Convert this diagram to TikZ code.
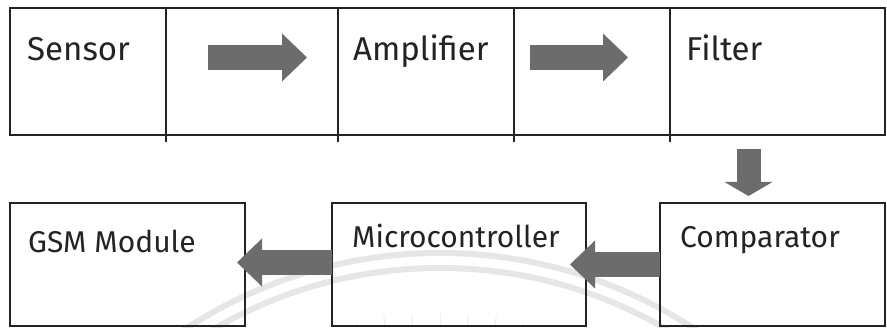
\documentclass[tikz,border=0pt]{standalone}
\usepackage{fontspec}
\setmainfont{Fira Sans}
\usetikzlibrary{arrows.meta,calc}
\definecolor{boxline}{RGB}{35,35,35}
\definecolor{txt}{RGB}{35,35,35}
\definecolor{arrowgray}{RGB}{108,108,108}
\definecolor{wmark}{RGB}{230,230,230}
\begin{document}
\begin{tikzpicture}[x=1pt,y=-1pt,
  cell/.style={draw=boxline,line width=1.4pt,minimum height=127pt,anchor=north west,inner sep=0pt,outer sep=0pt},
  lowbox/.style={draw=boxline,line width=1.4pt,minimum height=123pt,anchor=north west,inner sep=0pt,outer sep=0pt},
  lbl/.style={anchor=base west,inner sep=0pt,font=\fontsize{30}{32}\selectfont,text=txt},
  toplbl/.style={lbl,font=\fontsize{33}{35}\selectfont},
  fat/.style={draw=arrowgray,line width=25pt,line cap=butt,-{Triangle[width=48pt,length=25pt,line width=0pt]}},
  fatdown/.style={draw=arrowgray,line width=24pt,line cap=butt,-{Triangle[width=48pt,length=14pt,line width=0pt]}},
  wm/.style={draw=wmark,line width=6pt},
  tick/.style={draw=boxline,line width=1.4pt}
]
\useasboundingbox (0,0) rectangle (887,328);
% faint watermark behind the diagram
\begin{scope}
  \clip (0,0) rectangle (887,328);
  \draw[wm] (440,717) circle[radius=464];
  \draw[wm] (440,717) circle[radius=449];
  \foreach \a in {78,82,86,90,94,98,102}
    \draw[draw=wmark!70,line width=1pt] ($(440,717)+(\a:-392)$) -- ($(440,717)+(\a:-404)$);
\end{scope}
% top row (one table of five cells)
\node[cell,minimum width=156pt] (sensor) at (10,8) {};
\node[cell,minimum width=172pt] (gapone) at (sensor.north east) {};
\node[cell,minimum width=176pt] (amp) at (gapone.north east) {};
\node[cell,minimum width=156pt] (gaptwo) at (amp.north east) {};
\node[cell,minimum width=215pt] (filter) at (gaptwo.north east) {};
\foreach \c in {sensor,gapone,amp,gaptwo}
  \draw[tick] (\c.south east) -- ++(0,7);
\node[toplbl] (sensorlbl) at ([xshift=17pt,yshift=-53pt]sensor.north west) {Sensor};
\node[toplbl] (amplbl) at ([xshift=15pt,yshift=-53pt]amp.north west) {Amplifier};
\node[toplbl] (filterlbl) at ([xshift=16pt,yshift=-53pt]filter.north west) {Filter};
% bottom row
\node[lowbox,minimum width=235pt] (gsm) at (10,203) {};
\node[lowbox,minimum width=254pt] (micro) at (332,203) {};
\node[lowbox,minimum width=225pt] (comp) at (660,203) {};
\node[lbl] (gsmlbl) at ([xshift=18pt,yshift=-50pt]gsm.north west) {GSM Module};
\node[lbl] (microlbl) at ([xshift=20pt,yshift=-45pt]micro.north west) {Microcontroller};
\node[lbl] (complbl) at ([xshift=20pt,yshift=-45pt]comp.north west) {Comparator};
% block arrows
\coordinate (aonestart) at ([xshift=42pt,yshift=14pt]gapone.west);
\coordinate (aoneend) at ([xshift=-31pt,yshift=14pt]gapone.east);
\coordinate (atwostart) at ([xshift=16pt,yshift=14pt]gaptwo.west);
\coordinate (atwoend) at ([xshift=-42pt,yshift=14pt]gaptwo.east);
\draw[fat] (aonestart) -- (aoneend);
\draw[fat] (atwostart) -- (atwoend);
\coordinate (dstart) at ([xshift=-29pt,yshift=-14pt]filter.south);
\coordinate (dend) at ([yshift=7pt]dstart |- comp.north);
\draw[fatdown] (dstart) -- (dend);
\draw[fat] (comp.west) -- ([xshift=-16pt]micro.east);
\draw[fat] ([yshift=2pt]micro.west) -- ([xshift=-8pt,yshift=2pt]gsm.east);
\end{tikzpicture}
\end{document}
